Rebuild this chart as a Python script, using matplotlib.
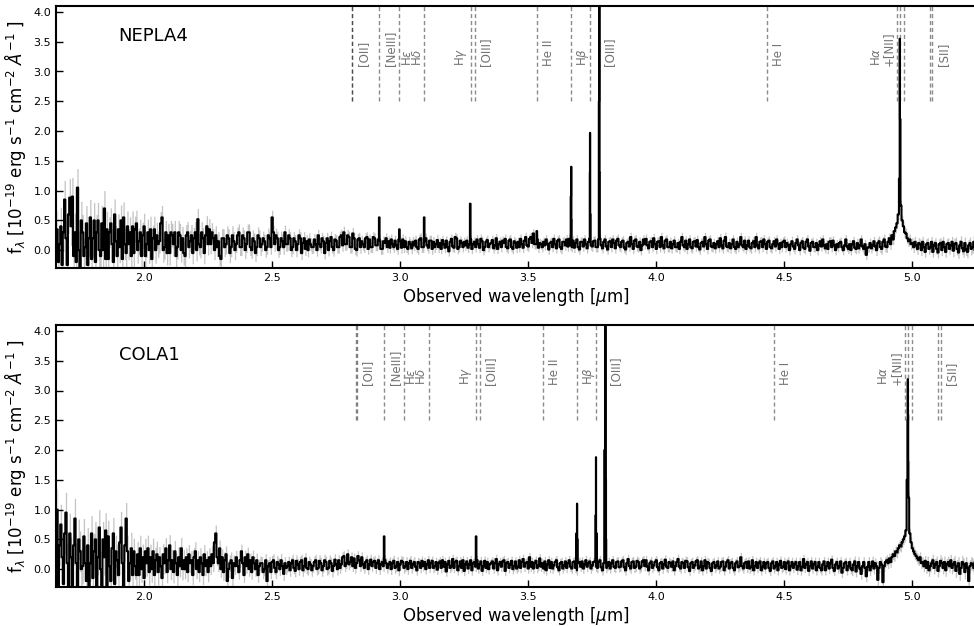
import numpy as np
import matplotlib.pyplot as plt

# wavelength grid of the continuum samples [um], 0.005 um steps
wave = np.round(1.66 + 0.005 * np.arange(720), 3)

# NEPLA4 continuum flux in units of 0.01e-19, one row per 0.1 um
flux_nepla4 = np.array([
    35, -20, 10, 40, -25, 30, 85, 20, -25, 60, 88, 40, 90, -10, 30, -20, 105, 0, -30, 50,
    30, -10, 5, 45, -25, 20, 55, -15, 20, 50, -20, 30, 50, 0, -10, 45, 0, 70, -15, 35,
    -15, 30, 45, 10, -20, 60, 15, -10, 35, 5, 50, -15, 55, 10, -5, 40, 10, 30, -10, 40,
    -5, 35, 45, 0, 15, 30, -10, 25, 40, -10, 10, 30, 0, 35, -15, 20, 35, 0, 25, 10,
    15, 45, 55, 0, 5, 30, -5, 25, -5, 30, 25, 10, 30, -10, 5, 30, 25, 0, 20, -5,
    -10, 25, 30, 5, 15, 25, -5, 20, 30, 0, 52, 10, 5, 30, 20, -5, 25, 40, 10, 35,
    10, 30, 20, 0, 25, 5, 15, -10, -15, 20, 20, 5, 10, 25, 20, -5, 5, 25, 15, 0,
    10, 25, 30, 5, 5, 25, 20, 0, 10, 30, 30, 5, 0, 20, 15, -5, 5, 25, 20, 5,
    10, 20, 15, 0, 5, 25, 20, 5, 55, 30, 10, 25, 20, 0, 5, 20, 15, 5, 30, 10,
    10, 25, 20, 0, 5, 20, 15, 0, 10, 25, 20, -5, 12, 20, 2, 15, 0, 18, 10, 5,
    5, 18, 10, 0, 25, 10, 5, 20, 15, -5, 12, 20, 0, 15, 22, 5, 0, 18, 16, 5,
    5, 22, 25, 8, 30, 10, 10, 25, 22, 5, 5, 28, 20, 2, 0, 18, 20, 5, 15, 10,
    5, 20, 22, 2, 18, 5, 5, 22, 20, 8, 8, 18, 16, 2, 2, 15, 12, 20, 5, 15,
    4, 18, 10, 5, 16, 8, 2, 18, 15, 4, 18, 5, 15, 5, 2, 14, 10, 3, 14, 8,
    16, 5, 2, 18, 20, 5, 5, 15, 20, 8, 4, 16, 16, 2, 14, 5, 10, 17, 5, 12,
    2, 17, 10, 4, 16, 5, -2, 14, 19, 6, 4, 22, 20, 2, 5, 16, 12, 5, 14, 8,
    16, 4, 10, 18, 2, 10, 14, 5, 18, 10, 4, 19, 15, 0, 5, 14, 17, 5, 10, 12,
    17, 3, 8, 20, 2, 10, 14, 5, 16, 12, 19, 5, 3, 16, 18, 5, 2, 15, 12, 4,
    14, 5, 19, 10, 4, 16, 22, 8, 6, 19, 22, 12, 28, 10, 10, 18, 4, 12, 10, 5,
    14, 8, 18, 10, 1, 12, 14, 5, 19, 10, 3, 16, 18, 5, 2, 14, 14, 8, 18, 6,
    19, 8, 5, 16, 4, 12, 18, 5, 1, 14, 14, 6, 18, 10, 3, 14, 19, 8, 6, 15,
    16, 5, 5, 18, 19, 8, 3, 14, 18, 6, 1, 14, 15, 5, 18, 12, 3, 16, 19, 8,
    5, 14, 16, 4, 1, 12, 14, 6, 22, 10, 2, 16, 18, 6, 5, 14, 0, 8, 18, 10,
    19, 8, 3, 14, 15, 5, 20, 10, 2, 14, 15, 5, 22, 8, 3, 16, 18, 5, 5, 14,
    3, 10, 16, 5, 5, 12, 2, 14, 22, 8, 5, 16, 2, 10, 18, 5, 3, 14, 15, 6,
    17, 5, 1, 12, 14, 6, 22, 10, 2, 16, 18, 6, 5, 12, 3, 10, 15, 5, 20, 8,
    3, 16, 22, 6, 5, 12, 3, 10, 18, 5, 2, 14, 5, 10, 22, 8, 5, 16, 2, 8,
    16, 5, 3, 12, 15, 5, 22, 8, 3, 14, 15, 5, 18, 10, 2, 14, 16, 5, 3, 10,
    15, 6, 18, 10, 2, 12, 5, 14, 16, 5, 12, 8, 0, 10, 15, 6, 2, 12, 18, 8,
    0, 12, 15, 4, 2, 14, 18, 6, -1, 12, 14, 5, 5, 12, 0, 8, 15, 6, 18, 8,
    3, 10, 2, 14, 15, 5, 16, 8, 0, 10, 5, 12, 14, 5, 0, 8, 18, 6, 2, 10,
    0, 10, 15, 4, 2, 12, 3, 8, 18, 6, 2, 10, -8, 4, 5, 12, 3, 8, 15, 6,
    0, 12, 15, 5, 2, 14, 18, 6, 5, 14, 20, 10, 25, 18, 32, 38, 45, 60, 120, 75,
    50, 40, 30, 28, 20, 15, 18, 10, 12, 5, 14, 8, 2, 12, 10, 0, 14, 5, -3, 10,
    12, 2, 5, 14, -3, 8, 12, 2, -4, 10, 12, 0, 14, 5, -3, 10, 12, 2, 8, 14,
    -1, 10, 12, 2, -4, 8, 14, 3, -2, 12, 1, -3, 8, 12, 2, 5, 14, 0, -3, 8,
]) / 100
# 1-sigma error, one value per 0.1 um bin
err_nepla4 = [0.32, 0.30, 0.26, 0.22, 0.20, 0.18, 0.16, 0.14, 0.12, 0.11,
              0.10, 0.10, 0.09, 0.09, 0.09, 0.08, 0.08, 0.08, 0.08, 0.08,
              0.08, 0.08, 0.08, 0.08, 0.08, 0.08, 0.08, 0.08, 0.08, 0.08,
              0.08, 0.08, 0.09, 0.09, 0.09, 0.10]
# emission-line samples (wavelength, flux)
lwave_nepla4 = [2.9190, 2.9960, 3.0948, 3.2745, 3.5345,
                3.6665, 3.6680, 3.6692, 3.7405, 3.7415, 3.7425,
                3.7762, 3.7772, 3.7782, 3.7792, 4.9508, 4.9522]
lflux_nepla4 = [0.55, 0.35, 0.55, 0.78, 0.32,
                0.90, 1.40, 0.50, 1.30, 1.97, 0.60,
                2.50, 6.00, 5.00, 1.30, 3.55, 2.20]

flux_cola1 = np.array([
    100, -30, 40, 75, 20, -25, 60, 95, 10, -30, 60, 20, -30, 40, 85, 10, -30, 50, 30, 0,
    5, 55, 10, -20, 40, -30, 10, 60, -15, 30, 50, -30, 20, 70, 0, -30, 50, 20, 65, -30,
    55, 5, -20, 35, 60, -25, 30, 15, -10, 45, 70, 10, -30, 40, 85, 30, -20, 10, 35, -10,
    30, 5, -10, 25, -10, 35, 0, 20, -15, 30, 10, 35, -5, 20, 0, 30, -10, 15, 25, -5,
    20, 5, -15, 25, 10, 35, -5, 15, 40, 0, 15, -5, 30, 10, -10, 20, 5, 35, 0, 15,
    0, 20, -5, 25, 10, 15, -10, 20, 30, 0, 15, -5, 20, 10, -10, 25, 5, 15, -5, 20,
    5, 25, 10, 45, 60, 20, 10, 35, 0, 20, -5, 15, 25, -20, 0, 10, 15, -15, 10, 5,
    20, 5, -5, 15, 30, 10, -10, 20, 5, 25, 0, 15, -5, 20, 10, 0, 15, -10, 5, 10,
    10, -5, 0, 15, -20, 5, 10, -5, 12, 15, 2, -5, 12, 8, 0, 15, 5, -8, 10, 2,
    5, 12, -2, 10, 15, 2, -3, 14, 8, 0, 12, 15, -2, 5, 18, 2, 0, 12, 8, -2,
    5, 12, 15, 0, 2, 14, 10, -2, 5, 15, 12, 0, 2, 14, 10, -3, 5, 16, 8, 0,
    15, 2, 8, 20, 22, 5, 10, 25, 8, 12, 20, 5, 18, 2, 10, 22, 15, 5, 20, 8,
    2, 12, 15, 0, 8, 16, 5, 12, 14, 2, 10, 15, 0, 8, 12, 5, 15, 10, 2, 8,
    12, 0, 10, 14, 2, 5, 12, -2, 8, 14, 12, 2, 5, 12, 0, 10, 14, 2, 8, 12,
    4, -2, 12, 10, 2, 14, 5, 12, 0, 8, 15, 2, 10, 14, 2, 5, 12, -1, 10, 13,
    2, 15, 4, 12, -4, 8, 14, 2, 5, 17, 2, 12, 14, -2, 5, 13, 2, 15, -3, 8,
    13, 1, 8, 15, -2, 10, 12, 4, 15, 1, 8, 13, -3, 5, 14, 2, 12, 0, 8, 10,
    13, 1, 10, 17, -2, 8, 12, 4, 13, 15, -3, 10, 12, 2, 8, 14, 0, 5, 13, 1,
    4, 15, 2, 12, 17, 4, 10, 12, 1, 20, 4, 12, 1, 10, 14, 2, 6, 18, 4, 10,
    1, 13, -2, 8, 15, 2, 12, 1, 6, 12, 15, 3, -2, 10, 12, 1, 6, 13, 2, 10,
    15, 4, 1, 12, 13, 2, -2, 10, 12, 4, 13, 1, 8, 15, 4, 10, 13, 1, 6, 12,
    13, 4, 2, 12, 15, 3, -2, 10, 13, 2, 6, 12, 1, 10, 15, 4, 2, 12, 13, 3,
    4, 13, 15, 3, -2, 10, 17, 5, 1, 12, 13, 2, 4, 14, 12, 1, 4, 13, 15, 5,
    15, 4, -2, 10, 13, 2, 6, 12, 15, 3, -2, 10, 12, 1, 8, 16, 4, 2, 12, 10,
    4, 13, -2, 5, 12, 17, 4, 1, 12, 10, 2, 14, 13, 3, -3, 10, 12, 2, 6, 13,
    15, 1, 4, 13, -2, 5, 15, 1, 12, 10, 2, -3, 10, 12, 2, 6, 13, 1, 4, 12,
    13, -2, 4, 12, 15, 1, 10, 12, 2, -2, 10, 13, 3, 5, 20, 5, 1, 10, 12, 2,
    13, 1, 4, 15, -2, 5, 12, 2, 10, 13, -2, 4, 12, 1, 10, 12, 2, -3, 10, 13,
    1, 5, 12, -2, 8, 14, 2, 4, 12, 0, 10, 13, -2, 5, 12, 2, 8, 12, -1, 5,
    12, -2, 4, 17, 2, 8, 12, -3, 5, 13, 1, 8, 12, -2, 4, 12, 2, -2, 8, 13,
    -2, 5, 12, 1, 10, 16, 2, -3, 8, 12, 1, 5, 13, -6, 2, 10, 12, -2, 5, 12,
    1, -2, 8, 13, -4, 5, 12, 1, -8, 5, 12, 2, -12, 4, 12, -2, 5, 13, 1, 10,
    5, -18, 2, 12, 8, -22, 5, 12, 15, 10, 18, 12, 20, 25, 22, 30, 28, 35, 40, 38,
    45, 50, 55, 65, 150, 120, 60, 45, 35, 30, 25, 22, 18, 15, 20, 10, 12, 5, 14, 2,
    12, -2, 5, 10, 15, 2, 8, 12, -3, 5, 14, 10, 2, 12, -2, 8, 12, 5, 15, 2,
    8, 12, -3, 5, 10, -8, 2, 12, 8, -5, 10, 2, -20, 5, 10, 8, 2, 12, 5, 0,
]) / 100
err_cola1 = [0.34, 0.30, 0.27, 0.22, 0.18, 0.16, 0.14, 0.12, 0.11, 0.10,
             0.10, 0.09, 0.09, 0.09, 0.08, 0.08, 0.08, 0.08, 0.08, 0.08,
             0.08, 0.08, 0.08, 0.08, 0.08, 0.08, 0.08, 0.08, 0.08, 0.08,
             0.08, 0.09, 0.09, 0.09, 0.10, 0.11]
lwave_cola1 = [2.9372, 3.2953, 3.6898, 3.6907, 3.6916, 3.7638, 3.7648, 3.7658,
               3.7992, 3.8002, 3.8012, 3.8022, 3.8032, 3.8042,
               4.9812, 4.9822, 4.9832, 4.9842]
lflux_cola1 = [0.55, 0.55, 0.60, 1.10, 0.50, 0.90, 1.88, 0.60,
               2.00, 5.50, 6.00, 5.00, 1.50, 0.50,
               2.50, 3.19, 2.60, 1.80]

names = ["NEPLA4", "COLA1"]
redshifts = [6.545, 6.592]

# rest-frame line wavelengths [um] marked with dashed lines
line_rest = [0.37260, 0.37288, 0.38688, 0.39701, 0.41017, 0.43405, 0.43632,
             0.46857, 0.48613, 0.49589, 0.50068, 0.58756,
             0.65480, 0.65628, 0.65835, 0.67164, 0.67308]
label_text = ["[OII]", "[NeIII]", "H$\\epsilon$\nH$\\delta$", "H$\\gamma$", "[OIII]",
              "He II", "H$\\beta$", "[OIII]", "He I", "H$\\alpha$\n+[NII]", "[SII]"]
label_rest = [0.37288, 0.38688, 0.39701, 0.43405, 0.43632,
              0.46857, 0.48613, 0.50068, 0.58756, 0.65480, 0.67308]
label_dx = [0.018, 0.018, 0.006, -0.008, 0.016, 0.018, 0.014, 0.016, 0.018, -0.008, 0.016]
label_ls = [1.0, 1.0, 0.7, 1.0, 1.0, 1.0, 1.0, 1.0, 1.0, 0.95, 1.0]

spectra = [(flux_nepla4, err_nepla4, lwave_nepla4, lflux_nepla4),
           (flux_cola1, err_cola1, lwave_cola1, lflux_cola1)]

fig = plt.figure(figsize=(9.74, 6.26), dpi=100)
axes = [fig.add_axes([56 / 974, 358 / 626, 920.4 / 974, 262 / 626]),
        fig.add_axes([56 / 974, 39 / 626, 920.4 / 974, 262 / 626])]

for ax, name, z, (flux, err, lwave, lflux) in zip(axes, names, redshifts, spectra):
    err = np.repeat(err, 20)
    ax.fill_between(wave, flux - err, flux + err, step="mid", color="0.77", lw=0, zorder=1)

    # continuum + emission lines, sorted in wavelength
    w = np.concatenate([wave, lwave])
    f = np.concatenate([flux, lflux])
    order = np.argsort(w)
    ax.plot(w[order], f[order], drawstyle="steps-mid", color="k", lw=1.5, zorder=3)

    for lr in line_rest:
        ax.plot([lr * (1 + z)] * 2, [2.5, 4.1], color="k", alpha=0.45, lw=1.0,
                ls=(0, (3, 2)), zorder=2)
    for txt, lr, dx, lsp in zip(label_text, label_rest, label_dx, label_ls):
        ax.text(lr * (1 + z) + dx, 3.1, txt, rotation=90, ha="left" if dx > 0 else "right",
                va="bottom", ma="left", fontsize=8.5, color="0.45", linespacing=lsp)

    ax.text(0.068, 0.885, name, transform=ax.transAxes, fontsize=13, va="center")

    ax.set_xlim(1.656, 5.25)
    ax.set_ylim(-0.3, 4.1)
    ax.set_xticks([2.0, 2.5, 3.0, 3.5, 4.0, 4.5, 5.0])
    ax.set_yticks(np.arange(0, 4.01, 0.5))
    ax.tick_params(direction="in", length=5, width=1, labelsize=8)
    for s in ax.spines.values():
        s.set_linewidth(1.5)
    ax.set_xlabel("Observed wavelength [$\\mu$m]", fontsize=12, labelpad=2)
    ax.set_ylabel("f$_\\lambda$ [10$^{-19}$ erg s$^{-1}$ cm$^{-2}$ $\\AA^{-1}$ ]",
                  fontsize=12)

fig.savefig("out.png", dpi=100)
